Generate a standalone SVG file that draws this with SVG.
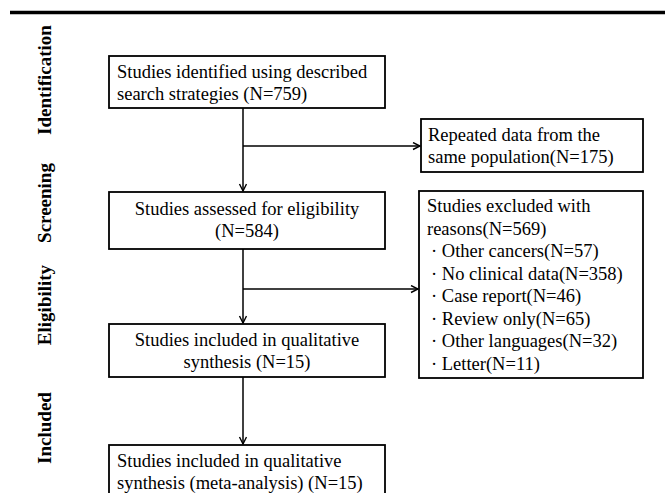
<svg xmlns="http://www.w3.org/2000/svg" width="665" height="493" viewBox="0 0 665 493">
<defs>
<marker id="arr" markerWidth="10" markerHeight="10" refX="8" refY="4" orient="auto" markerUnits="userSpaceOnUse">
<path d="M1,0.5 L8,4 L1,7.5" fill="none" stroke="#000" stroke-width="1.4"/>
</marker>
</defs>
<style>
.box{fill:#fff;stroke:#000;stroke-width:1.8}
.t{font-family:"Liberation Serif","Times New Roman",serif;font-size:18.5px;fill:#000}
.c{text-anchor:middle}
.lab{font-family:"Liberation Serif","Times New Roman",serif;font-size:19px;font-weight:bold;fill:#000;text-anchor:middle}
.ln{fill:none;stroke:#000;stroke-width:1.5}
</style>
<rect width="665" height="493" fill="#fff"/>
<line x1="10" y1="12.5" x2="665" y2="12.5" stroke="#000" stroke-width="3.5"/>
<g id="stage-labels">
<text class="lab" transform="translate(51,80) rotate(-90)">Identification</text>
<text class="lab" transform="translate(51,203) rotate(-90)">Screening</text>
<text class="lab" transform="translate(51,305) rotate(-90)">Eligibility</text>
<text class="lab" transform="translate(51,428) rotate(-90)">Included</text>
</g>
<g id="connectors">
<line class="ln" x1="243" y1="108" x2="243" y2="191" marker-end="url(#arr)"/>
<line class="ln" x1="243" y1="146" x2="420" y2="146" marker-end="url(#arr)"/>
<line class="ln" x1="243" y1="249" x2="243" y2="323" marker-end="url(#arr)"/>
<line class="ln" x1="243" y1="289" x2="418" y2="289" marker-end="url(#arr)"/>
<line class="ln" x1="243" y1="377" x2="243" y2="444" marker-end="url(#arr)"/>
</g>
<g id="identified">
<rect class="box" x="109" y="56" width="276" height="52"/>
<text class="t" x="117" y="78">Studies identified using described</text>
<text class="t" x="117" y="99.5">search strategies (N=759)</text>
</g>
<g id="repeated">
<rect class="box" x="421" y="119" width="222" height="53"/>
<text class="t" x="428" y="141">Repeated data from the</text>
<text class="t" x="428" y="163">same population(N=175)</text>
</g>
<g id="assessed">
<rect class="box" x="109" y="192" width="276" height="57"/>
<text class="t c" x="247" y="215">Studies assessed for eligibility</text>
<text class="t c" x="247" y="237">(N=584)</text>
</g>
<g id="excluded">
<rect class="box" x="419" y="191" width="224" height="187"/>
<text class="t" x="427" y="212">Studies excluded with</text>
<text class="t" x="427" y="234.5">reasons(N=569)</text>
<text class="t" x="431" y="257">· Other cancers(N=57)</text>
<text class="t" x="431" y="279.5">· No clinical data(N=358)</text>
<text class="t" x="431" y="302">· Case report(N=46)</text>
<text class="t" x="431" y="324.5">· Review only(N=65)</text>
<text class="t" x="431" y="347">· Other languages(N=32)</text>
<text class="t" x="431" y="369.5">· Letter(N=11)</text>
</g>
<g id="qualitative">
<rect class="box" x="109" y="324" width="276" height="53"/>
<text class="t c" x="247" y="346">Studies included in qualitative</text>
<text class="t c" x="247" y="368">synthesis (N=15)</text>
</g>
<g id="meta">
<rect class="box" x="109" y="445" width="276" height="60"/>
<text class="t" x="117" y="467">Studies included in qualitative</text>
<text class="t" x="117" y="488.5">synthesis (meta-analysis) (N=15)</text>
</g>
</svg>
